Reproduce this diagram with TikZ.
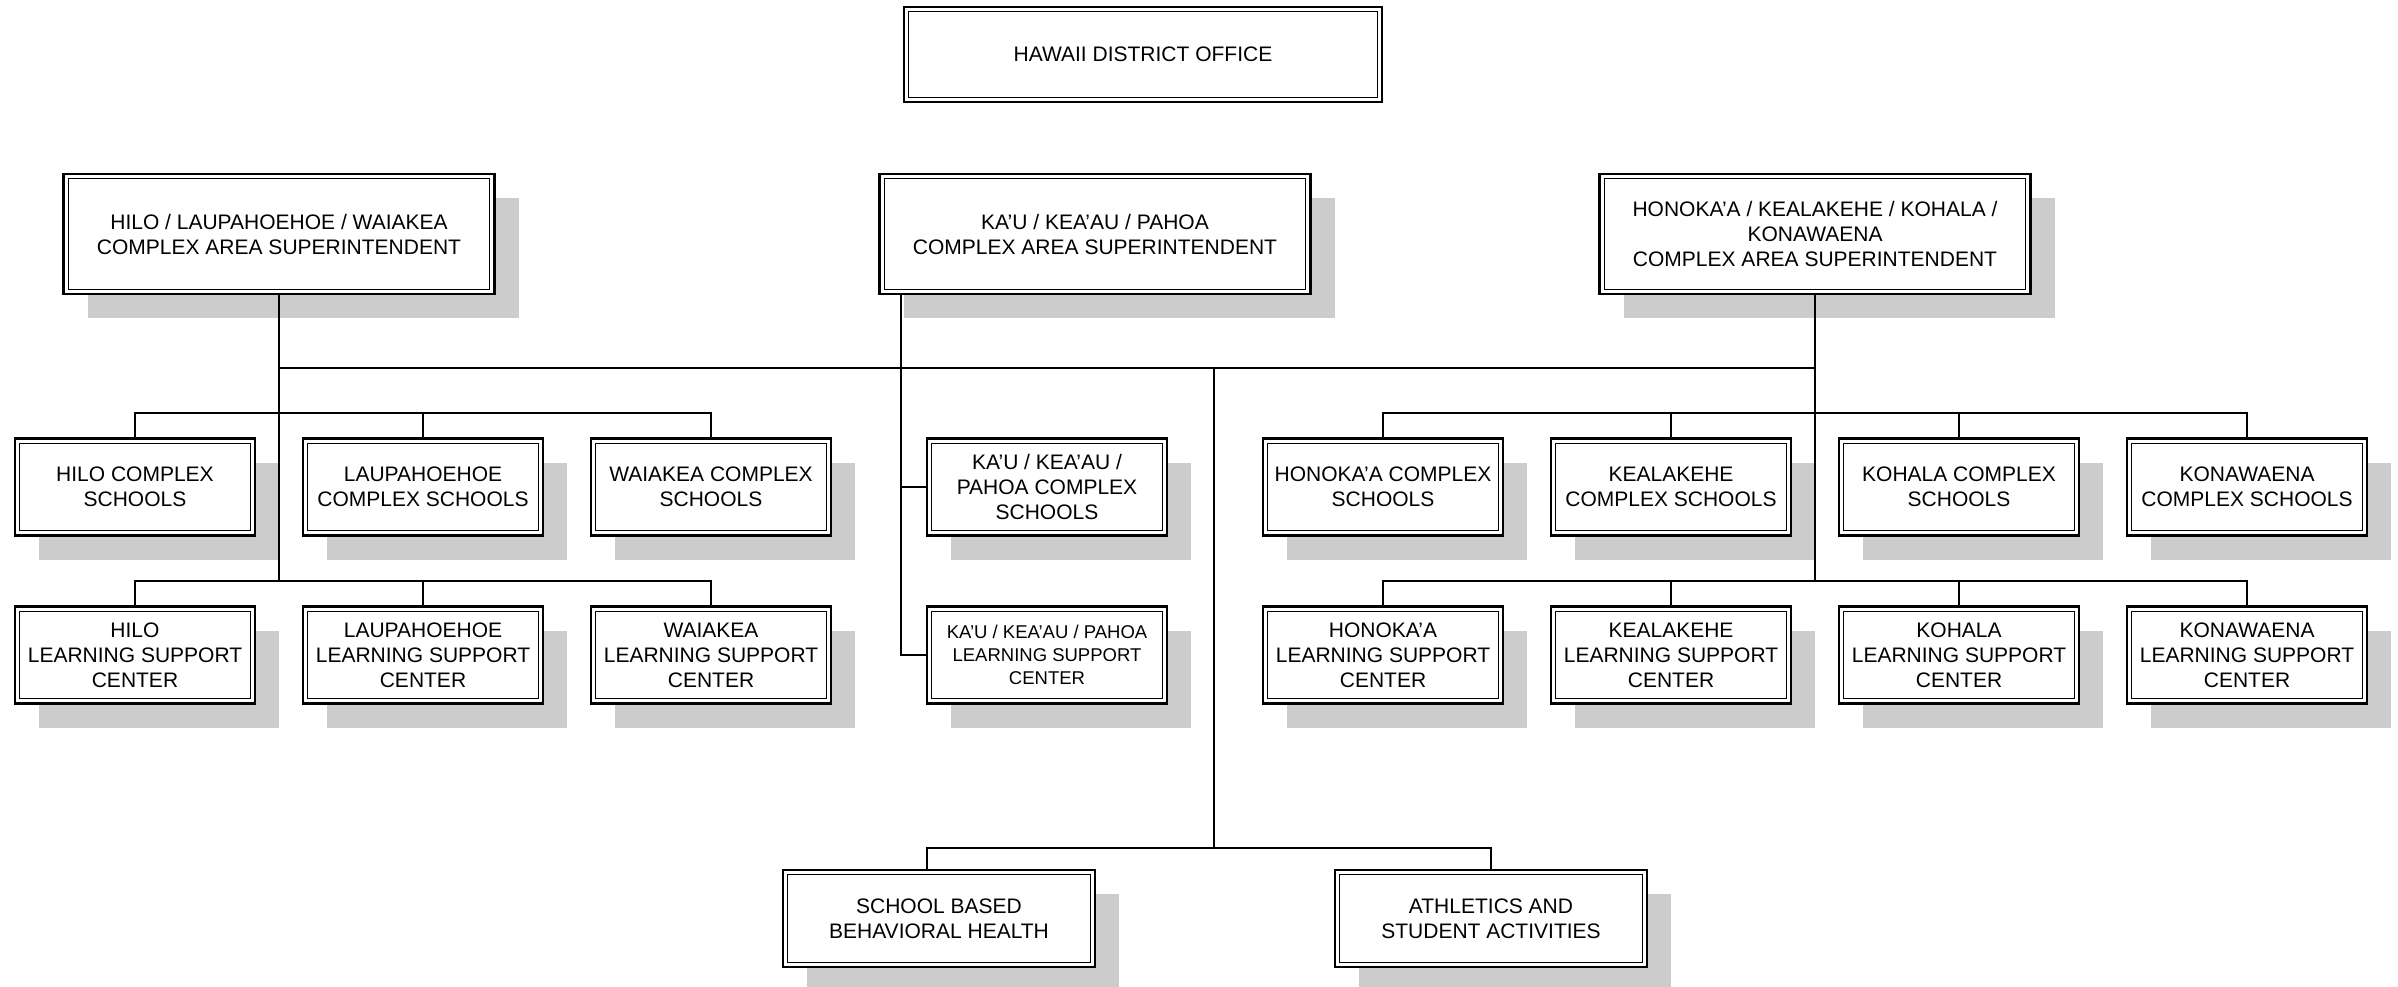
\documentclass[tikz,border=0pt]{standalone}
\usepackage{fontspec}
\setmainfont{Liberation Sans}
\usetikzlibrary{shadows}
\tikzset{
  orgbox/.style={draw, line width=1.2pt, fill=white, align=center, inner sep=0pt,
    font=\fontsize{10.5pt}{12.5pt}\selectfont,
    path picture={\draw[line width=0.6pt]
      ([shift={(2.4pt,-2.4pt)}]path picture bounding box.north west) rectangle
      ([shift={(-2.4pt,2.4pt)}]path picture bounding box.south east);}},
  shad/.style={drop shadow={shadow xshift=12pt, shadow yshift=-12pt, fill=black!20, opacity=1}},
  bigbox/.style={orgbox, shad, minimum width=215.5pt, minimum height=60pt},
  unitbox/.style={orgbox, shad, minimum width=120pt, minimum height=48.5pt},
  widebox/.style={orgbox, shad, minimum width=156pt, minimum height=48.5pt},
  smalltext/.style={font=\fontsize{9.25pt}{11.5pt}\selectfont},
  link/.style={line width=0.9pt},
}
\begin{document}
\begin{tikzpicture}[x=0.5pt, y=-0.5pt]
\useasboundingbox (0,0) rectangle (2398,986);

% top
\node[orgbox, minimum width=239pt, minimum height=47.5pt] (do) at (1143,54.5) {HAWAII DISTRICT OFFICE};

% complex area superintendents
\node[bigbox] (hcas) at (279,234) {HILO / LAUPAHOEHOE / WAIAKEA\\COMPLEX AREA SUPERINTENDENT};
\node[bigbox] (kcas) at (1095,234) {KA'U / KEA'AU / PAHOA\\COMPLEX AREA SUPERINTENDENT};
\node[bigbox] (ocas) at (1815,234) {HONOKA'A / KEALAKEHE / KOHALA /\\KONAWAENA\\COMPLEX AREA SUPERINTENDENT};

% complex schools
\node[unitbox] (hcs) at (135,487) {HILO COMPLEX\\SCHOOLS};
\node[unitbox] (lcs) at (423,487) {LAUPAHOEHOE\\COMPLEX SCHOOLS};
\node[unitbox] (wcs) at (711,487) {WAIAKEA COMPLEX\\SCHOOLS};
\node[unitbox] (kcs) at (1047,487) {KA'U / KEA'AU /\\PAHOA COMPLEX\\SCHOOLS};
\node[unitbox] (ocs) at (1383,487) {HONOKA'A COMPLEX\\SCHOOLS};
\node[unitbox] (ecs) at (1671,487) {KEALAKEHE\\COMPLEX SCHOOLS};
\node[unitbox] (kocs) at (1959,487) {KOHALA COMPLEX\\SCHOOLS};
\node[unitbox] (ncs) at (2247,487) {KONAWAENA\\COMPLEX SCHOOLS};

% learning support centers
\node[unitbox] (hls) at (135,655) {HILO\\LEARNING SUPPORT\\CENTER};
\node[unitbox] (lls) at (423,655) {LAUPAHOEHOE\\LEARNING SUPPORT\\CENTER};
\node[unitbox] (wls) at (711,655) {WAIAKEA\\LEARNING SUPPORT\\CENTER};
\node[unitbox, smalltext] (kls) at (1047,655) {KA'U / KEA'AU / PAHOA\\LEARNING SUPPORT\\CENTER};
\node[unitbox] (ols) at (1383,655) {HONOKA'A\\LEARNING SUPPORT\\CENTER};
\node[unitbox] (els) at (1671,655) {KEALAKEHE\\LEARNING SUPPORT\\CENTER};
\node[unitbox] (kols) at (1959,655) {KOHALA\\LEARNING SUPPORT\\CENTER};
\node[unitbox] (nls) at (2247,655) {KONAWAENA\\LEARNING SUPPORT\\CENTER};

% bottom
\node[widebox] (sb) at (939,918.5) {SCHOOL BASED\\BEHAVIORAL HEALTH};
\node[widebox] (at) at (1491,918.5) {ATHLETICS AND\\STUDENT ACTIVITIES};

% connectors
\path (hcas.south) ++(0,73) coordinate (mL);
\path (ocas.south) ++(0,73) coordinate (mR);
\coordinate (tc) at (1214,367);
\coordinate (tb) at (1214,848);

\draw[link] (mL) -- (mR);
\draw[link] (hcas.south) -- ([yshift=12pt]hcas.south |- hls.north);
\draw[link] (ocas.south) -- ([yshift=12pt]ocas.south |- ols.north);

\draw[link] (hcs.north) -- ++(0,-24) -| (wcs.north);
\draw[link] (lcs.north) -- ++(0,-24);
\draw[link] (hls.north) -- ++(0,-24) -| (wls.north);
\draw[link] (lls.north) -- ++(0,-24);

\draw[link] (ocs.north) -- ++(0,-24) -| (ncs.north);
\draw[link] (ecs.north) -- ++(0,-24);
\draw[link] (kocs.north) -- ++(0,-24);
\draw[link] (ols.north) -- ++(0,-24) -| (nls.north);
\draw[link] (els.north) -- ++(0,-24);
\draw[link] (kols.north) -- ++(0,-24);

\draw[link] ([xshift=11.25pt]kcas.south west) |- (kls.west);
\draw[link] (kcs.west) -- ++(-25,0);

\draw[link] (tc) -- (tb);
\draw[link] ([xshift=-6pt]sb.north) |- (tb) -| (at.north);
\end{tikzpicture}
\end{document}
